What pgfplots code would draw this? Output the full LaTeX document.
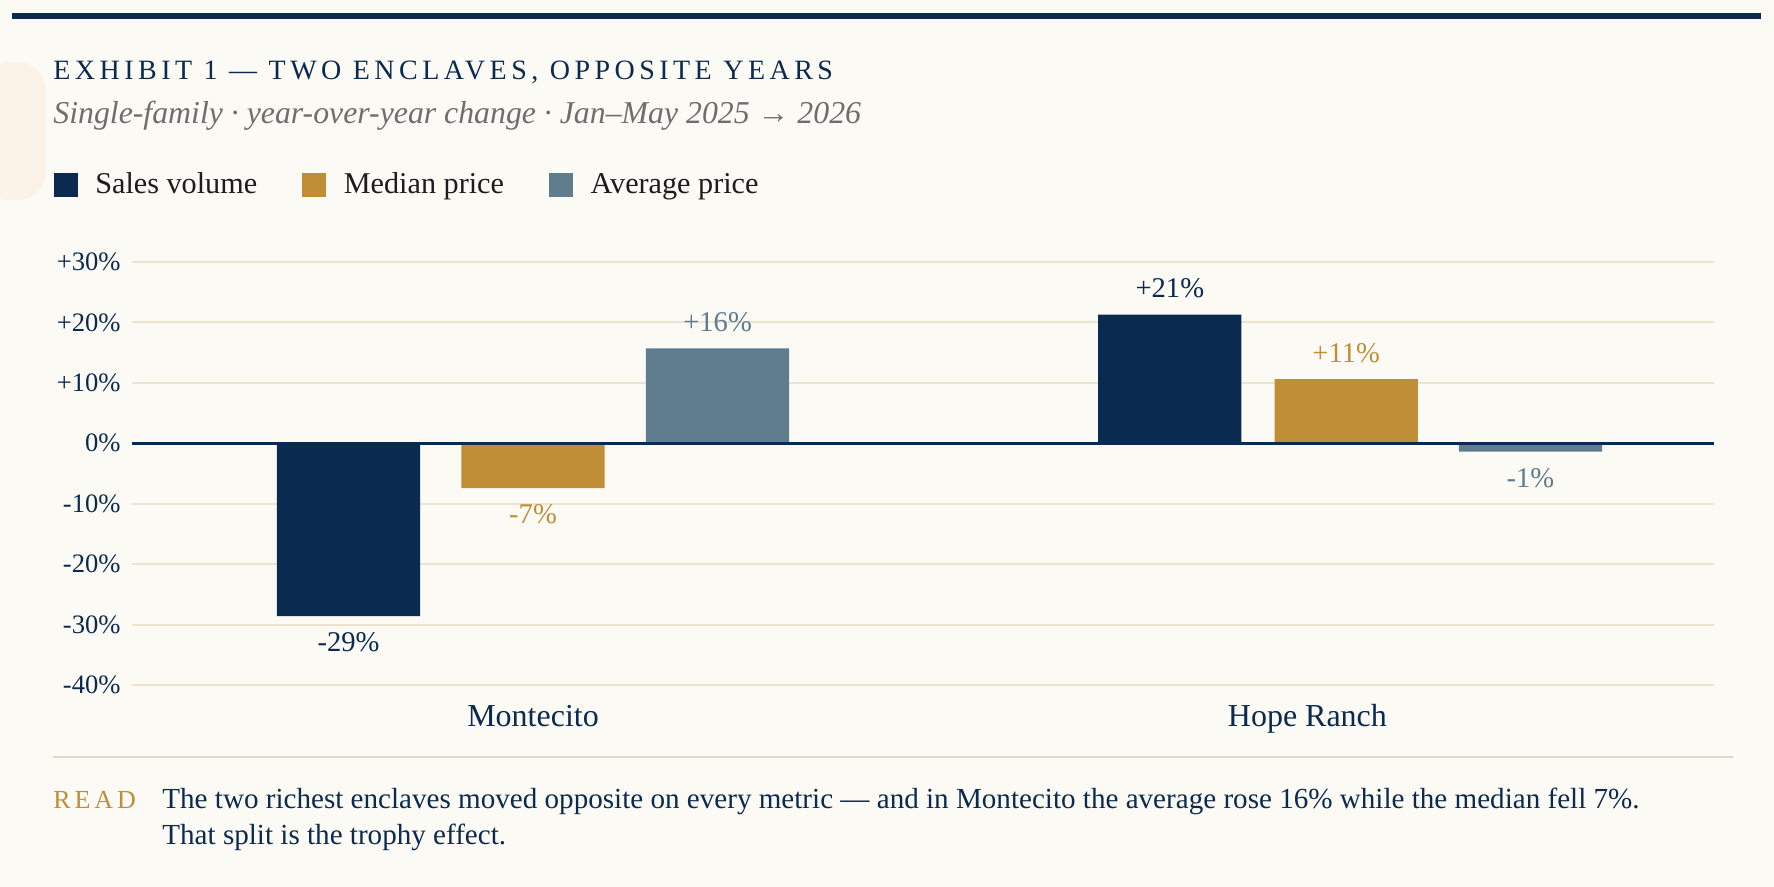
\documentclass[border=0pt]{standalone}
\usepackage{fontspec}
\setmainfont{Liberation Serif}
\usepackage{pgfplots}
\pgfplotsset{compat=1.18}
\usepackage{pgfplotstable}

\definecolor{paper}{HTML}{FCFAF4}
\definecolor{navy}{HTML}{0B2A4F}
\definecolor{gold}{HTML}{C08E37}
\definecolor{slate}{HTML}{5F7D8F}
\definecolor{gridtan}{HTML}{ECE3D0}
\definecolor{ruletan}{HTML}{E2D8C2}
\definecolor{subgray}{HTML}{6E6E6E}
\definecolor{ink}{HTML}{1C1C1C}
\definecolor{blush}{HTML}{FBF3E8}

% year-over-year change (%), single-family, Jan-May 2025 -> 2026
% xs/xm/xa: bar centres on the category axis (Montecito = 0)
\pgfplotstableread{
xs       xm     xa      sales   median  average
-0.2333  0      0.2333  -28.6   -7.4    15.7
 0.805   1.028  1.261    21.3   10.6    -1.4
}\enclaves

\pgfplotsset{
  valuelabel/.style={
    nodes near coords={\pgfmathprintnumber[fixed,precision=0,print sign]{\pgfplotspointmeta}\%},
    every node near coord/.append style={font=\fontsize{14.3}{14.3}\selectfont, text=#1, inner xsep=0pt, inner ysep=8pt},
  },
}

\begin{document}
\begin{tikzpicture}
\begin{scope}[x=0.5pt, y=-0.5pt]
  \fill[paper] (0,0) rectangle (1774,887);
  \useasboundingbox (0,0) rectangle (1774,887);
  \fill[blush, rounded corners=14pt] (-20,62) rectangle (46,200);
  % top rule
  \fill[navy] (12,13) rectangle (1761,19);
  % title and subtitle
  \node[anchor=base west, inner sep=0pt, text=navy,
        font=\fontsize{14}{14}\selectfont\addfontfeatures{LetterSpace=16}]
        at (53,80) {EXHIBIT 1 — TWO ENCLAVES, OPPOSITE YEARS};
  \node[anchor=base west, inner sep=0pt, text=subgray,
        font=\fontsize{15.9}{15.9}\selectfont\itshape]
        at (53,124) {Single-family · year-over-year change · Jan–May 2025 → 2026};
  % footer
  \draw[ruletan, line width=1pt] (53,757) -- (1733,757);
  \node[anchor=base west, inner sep=0pt, text=gold,
        font=\fontsize{13}{13}\selectfont\addfontfeatures{LetterSpace=15}]
        at (53,808) {READ};
  \node[anchor=base west, inner sep=0pt, text=navy, font=\fontsize{14.55}{14.55}\selectfont]
        at (162,808) {The two richest enclaves moved opposite on every metric — and in Montecito the average rose 16\% while the median fell 7\%.};
  \node[anchor=base west, inner sep=0pt, text=navy, font=\fontsize{14.55}{14.55}\selectfont]
        at (162,844) {That split is the trophy effect.};
\end{scope}

\begin{axis}[
  at={(66pt,-342.5pt)}, anchor=south west,
  scale only axis, width=791pt, height=211.5pt,
  xmin=-0.507, xmax=1.493, ymin=-40, ymax=30,
  ybar, bar width=0.181, bar shift=0,
  axis line style={draw=none},
  major tick length=0pt,
  ytick={-40,-30,...,30},
  yticklabels={-40\%,-30\%,-20\%,-10\%,0\%,+10\%,+20\%,+30\%},
  xtick={0,0.979},
  xticklabels={Montecito,Hope Ranch},
  ymajorgrids,
  grid style={gridtan, line width=1pt},
  yticklabel style={font=\fontsize{13.3}{13.3}\selectfont, text=navy, anchor=east, inner sep=0pt, xshift=-5.5pt},
  xticklabel style={font=\fontsize{16}{16}\selectfont, text=navy, anchor=base, inner sep=0pt, yshift=-20.5pt},
  /pgf/number format/assume math mode=true,
  legend columns=3,
  legend style={at={(-0.0535,1.182)}, anchor=west, draw=none, fill=none,
    font=\fontsize{15.1}{15.1}\selectfont, text=ink,
    /tikz/every odd column/.append style={column sep=6.8pt},
    /tikz/every even column/.append style={column sep=20.5pt}},
  legend image code/.code={\fill[#1] (0pt,-6pt) rectangle (12pt,6pt);},
]
\addplot[fill=navy, draw=none, valuelabel=navy]
  table[x=xs, y=sales] {\enclaves};
\addlegendentry{Sales volume}
\addplot[fill=gold, draw=none, valuelabel=gold]
  table[x=xm, y=median] {\enclaves};
\addlegendentry{Median price}
\addplot[fill=slate, draw=none, valuelabel=slate]
  table[x=xa, y=average] {\enclaves};
\addlegendentry{Average price}
% zero baseline over the bars
\draw[navy, line width=1.3pt] (axis cs:-0.507,0) -- (axis cs:1.493,0);
\end{axis}
\end{tikzpicture}
\end{document}
